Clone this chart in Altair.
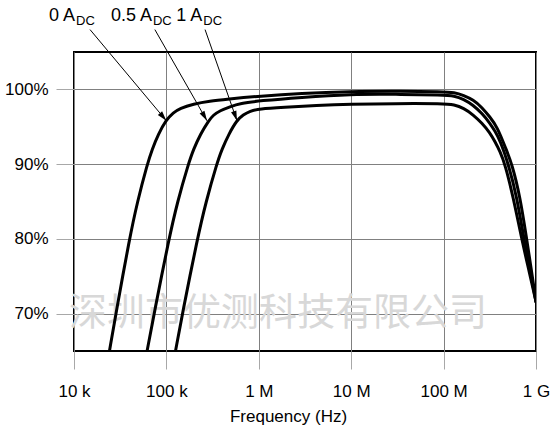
import math
import altair as alt
import pandas as pd

# ---- data ----
curve_names = ["0 A", "0.5 A", "1 A"]

freq_0A = [24.2e3, 28.4e3, 39.8e3, 48.6e3, 62.1e3, 70.2e3, 81.7e3, 99e3, 119e3, 140e3, 195e3,
           296e3, 450e3, 1.03e6, 2.8e6, 10e6, 30e6, 100e6, 130e6, 165e6, 209e6, 260e6,
           317e6, 380e6, 474e6, 550e6, 671e6, 792e6, 887e6, 1e9]
pct_0A = [65.0, 70.0, 80.0, 85.0, 90.0, 92.0, 94.0, 95.9, 96.9, 97.47, 98.04,
          98.44, 98.67, 99.1, 99.47, 99.72, 99.75, 99.7, 99.6, 99.2, 98.6, 97.6,
          96.3, 95.0, 92.0, 90.0, 85.7, 80.0, 76.0, 71.6]

freq_05A = [61.8e3, 73.6e3, 106.4e3, 132e3, 172.6e3, 196.9e3, 233.2e3, 286e3, 322e3, 380e3,
            488e3, 627e3, 1.03e6, 2.8e6, 10e6, 30e6, 100e6, 130e6, 165e6, 209e6, 260e6,
            317e6, 360e6, 408e6, 503e6, 618e6, 741e6, 855e6, 1e9]
pct_05A = [65.0, 70.0, 80.0, 85.0, 90.0, 92.0, 94.0, 95.8, 96.57, 97.15,
           97.68, 98.13, 98.48, 98.93, 99.37, 99.35, 99.25, 99.15, 98.7, 97.9, 96.8,
           95.5, 94.4, 93.2, 90.0, 85.7, 80.0, 76.0, 71.6]

freq_1A = [125.5e3, 149e3, 216e3, 268.6e3, 350e3, 399.6e3, 473e3, 580e3, 679e3, 803e3, 1.01e6,
           1.85e6, 4.2e6, 9.7e6, 30e6, 100e6, 130e6, 165e6, 209e6, 260e6, 317e6, 360e6,
           408e6, 462e6, 564e6, 700e6, 830e6, 1e9]
pct_1A = [65.0, 70.0, 80.0, 85.0, 90.0, 92.0, 94.0, 95.9, 96.6, 97.1, 97.4,
          97.6, 97.87, 98.04, 98.1, 98.1, 97.95, 97.5, 96.6, 95.5, 94.2, 93.0,
          91.7, 90.0, 85.7, 80.0, 76.0, 71.6]

x_ticks = [1e4, 1e5, 1e6, 1e7, 1e8, 1e9]
x_tick_labels = ["10 k", "100 k", "1 M", "10 M", "100 M", "1 G"]
y_ticks = [70, 80, 90, 100]

# annotation: label anchor, arrow start and arrow tip (data units)
label_main = ["0 A", "0.5 A", "1 A"]
label_sub = ["DC", "DC", "DC"]
label_freq = [10.25e3, 69.8e3, 245e3]
label_pct = [109.15, 109.15, 109.15]
arrow_start_freq = [14.9e3, 75e3, 262e3]
arrow_start_pct = [108.0, 108.0, 108.0]
arrow_tip_freq = [100e3, 275e3, 581e3]
arrow_tip_pct = [95.8, 95.8, 95.8]

watermark = ["深圳市优测科技有限公司"]
watermark_freq = [1.614e6]
watermark_pct = [69.9]

# ---- layout ----
W, H = 462, 299
X_DOM = [1e4, 1e9]
Y_DOM = [65, 105]
FONT = "Liberation Sans, Arial, sans-serif"


def px(f):
    return (math.log10(f) - math.log10(X_DOM[0])) / (math.log10(X_DOM[1]) - math.log10(X_DOM[0])) * W


def py(p):
    return (Y_DOM[1] - p) / (Y_DOM[1] - Y_DOM[0]) * H


rows = []
for name, fs, ps in [(curve_names[0], freq_0A, pct_0A),
                     (curve_names[1], freq_05A, pct_05A),
                     (curve_names[2], freq_1A, pct_1A)]:
    for i, (f, p) in enumerate(zip(fs, ps)):
        rows.append({"curve": name, "freq": f, "pct": p, "order": i})
curves = pd.DataFrame(rows)

angles = []
for f0, p0, f1, p1 in zip(arrow_start_freq, arrow_start_pct, arrow_tip_freq, arrow_tip_pct):
    dx = px(f1) - px(f0)
    dy = py(p1) - py(p0)
    angles.append((-math.degrees(math.atan2(dx, dy))) % 360)

ann = pd.DataFrame({
    "main": label_main, "sub": label_sub,
    "lf": label_freq, "lp": label_pct,
    "f0": arrow_start_freq, "p0": arrow_start_pct,
    "f1": arrow_tip_freq, "p1": arrow_tip_pct,
    "ang": angles,
})
wm = pd.DataFrame({"t": watermark, "f": watermark_freq, "p": watermark_pct})

xs = alt.Scale(type="log", domain=X_DOM, nice=False)
ys = alt.Scale(domain=Y_DOM, nice=False, zero=False)

label_expr = "[" + ",".join("'%s'" % s for s in x_tick_labels) + "][round(log(datum.value)/LN10) - 4]"

x_axis = alt.Axis(values=x_ticks, labelExpr=label_expr, title="Frequency (Hz)", grid=True,
                  gridColor="#808080", gridWidth=1, tickSize=18, tickColor="#a8a8a8",
                  labelBaseline="alphabetic", labelPadding=27, labelFont=FONT, labelFontSize=17,
                  labelColor="black", titleFont=FONT, titleFontSize=17, titleFontWeight="normal",
                  titleColor="black", titleX=214, titleY=70, titleBaseline="alphabetic",
                  titleAlign="center", domain=False, labelFlush=False)
y_axis = alt.Axis(values=y_ticks, labelExpr="datum.value + '%'", title=None, grid=True,
                  gridColor="#808080", gridWidth=1, tickSize=18, tickColor="#a8a8a8",
                  labelPadding=8, labelFont=FONT, labelFontSize=17, labelColor="black",
                  domain=False)


def X(field):
    return alt.X(field, scale=xs, axis=x_axis, title="Frequency (Hz)")


def Y(field):
    return alt.Y(field, scale=ys, axis=y_axis, title=None)


wm_layer = alt.Chart(wm).mark_text(font="Noto Sans CJK SC", fontSize=38, color="#d8d8d8",
                                   align="center", baseline="middle", clip=False).encode(
    x=X("f:Q"), y=Y("p:Q"), text="t:N",
)

lines = alt.Chart(curves).mark_line(color="black", strokeWidth=3, interpolate="basis",
                                    clip=True, strokeCap="round", strokeJoin="round").encode(
    x=X("freq:Q"), y=Y("pct:Q"), detail="curve:N", order="order:Q",
)

arrows = alt.Chart(ann).mark_rule(color="black", strokeWidth=1, clip=False).encode(
    x=X("f0:Q"), y=Y("p0:Q"), x2="f1:Q", y2="p1:Q",
)

heads = alt.Chart(ann).mark_point(shape="M0,0L-0.28,-1L0.28,-1Z", filled=True, size=400,
                                  color="black", opacity=1, clip=False, strokeWidth=0).encode(
    x=X("f1:Q"), y=Y("p1:Q"), angle=alt.Angle("ang:Q", scale=None),
)

main_txt = alt.Chart(ann).mark_text(font=FONT, fontSize=18, align="right", baseline="alphabetic",
                                    color="black", clip=False).encode(
    x=X("lf:Q"), y=Y("lp:Q"), text="main:N",
)
sub_txt = alt.Chart(ann).mark_text(font=FONT, fontSize=13, align="left", baseline="alphabetic",
                                   color="black", dx=1, dy=4.5, clip=False).encode(
    x=X("lf:Q"), y=Y("lp:Q"), text="sub:N",
)

chart = alt.layer(wm_layer, lines, arrows, heads, main_txt, sub_txt).properties(
    width=W, height=H,
    autosize=alt.AutoSizeParams(type="none"),
    padding={"left": 74, "top": 52, "right": 23, "bottom": 78},
    background="white",
).configure_view(stroke="black", strokeWidth=2)

chart.save("out.html", embed_options={"renderer": "svg", "actions": False})
